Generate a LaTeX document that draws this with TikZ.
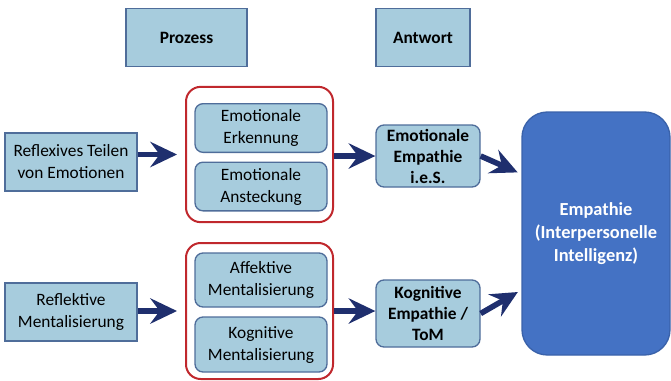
\documentclass[tikz,border=0pt]{standalone}
\usepackage{fontspec}
\setmainfont{Carlito}
\usetikzlibrary{arrows.meta}
\definecolor{boxfill}{HTML}{A7CCDD}
\definecolor{boxline}{HTML}{4F6D9A}
\definecolor{grpline}{HTML}{C0282D}
\definecolor{empfill}{HTML}{4472C4}
\definecolor{empline}{HTML}{3A62AA}
\definecolor{arrowblue}{HTML}{1F2F6E}
\tikzset{
	head/.style={rectangle, draw=boxline, fill=boxfill, line width=1pt, align=center, font=\fontsize{13}{16.5}\selectfont\bfseries},
	arrow/.style={-{Stealth[length=20pt, width=19pt, inset=7pt]}, line width=4.2pt, arrowblue}
}

\begin{document}
\begin{tikzpicture}[
		x=0.75pt, y=-0.75pt,
		box/.style={
			rectangle,
			draw=boxline,
			fill=boxfill,
			line width=1pt,
			align=center,
			inner sep=1pt,
			font=\fontsize{13}{16.5}\selectfont
		},
		roundbox/.style={
			box,
			rounded corners=6pt
		},
		answer/.style={
			box,
			rounded corners=6pt,
			font=\fontsize{13}{15.75}\selectfont\bfseries
		},
		group/.style={
			draw=grpline,
			line width=1.5pt,
			rounded corners=11pt,
			minimum width=110.25pt,
			minimum height=101.5pt
		},
		result/.style={
			draw=empline,
			fill=empfill,
			line width=1pt,
			rounded corners=19pt,
			align=center,
			text=white,
			font=\fontsize{13.8}{17.5}\selectfont\bfseries,
			minimum width=111pt,
			minimum height=182.25pt
		}
		]
		\useasboundingbox (0,0) rectangle (671,380);
		
		% column heads
		\node[head, minimum width=90.75pt, minimum height=43.5pt] (prozess) at (186.5,37.5) {Prozess};
		\node[head, minimum width=70.5pt, minimum height=43.5pt] (antwort) at (423,37.5) {Antwort};
		
		% sources
		\node[box, minimum width=99pt, minimum height=43.5pt] (reflexiv) at (71,162) {Reflexives Teilen\\von Emotionen};
		\node[box, minimum width=99pt, minimum height=43.5pt] (reflektiv) at (71,312) {Reflektive\\Mentalisierung};
		
		% processes
		\node[group] (grpemo) at (259.5,154.5) {};
		\node[roundbox, minimum width=99pt, minimum height=36.5pt] (erkennung) at (261,128) {Emotionale\\Erkennung};
		\node[roundbox, minimum width=99pt, minimum height=36.5pt] (ansteckung) at (261,186.5) {Emotionale\\Ansteckung};
		
		\node[group, minimum height=102pt] (grpment) at (259.5,311) {};
		\node[roundbox, minimum width=99pt, minimum height=40.5pt] (affektiv) at (261,280) {Affektive\\Mentalisierung};
		\node[roundbox, minimum width=99pt, minimum height=41.25pt] (kognitiv) at (261,344.5) {Kognitive\\Mentalisierung};
		
		% answers
		\node[answer, minimum width=78pt, minimum height=46.5pt] (emoemp) at (428,156) {Emotionale\\Empathie\\i.e.S.};
		\node[answer, minimum width=78pt, minimum height=50.25pt] (kogemp) at (428,313.5) {Kognitive\\Empathie /\\ToM};
		
		\node[result] (empathie) at (596,233.5) {Empathie\\(Interpersonelle\\Intelligenz)};
		
		\draw[arrow, shorten >=6pt] (reflexiv.east |- grpemo.west) -- (grpemo.west);
		\draw[arrow, shorten >=6pt] (reflektiv.east |- grpment.west) -- (grpment.west);
		\draw[arrow] (grpemo.east |- emoemp.west) -- (emoemp.west);
		\draw[arrow] (grpment.east) -- (grpment.east -| kogemp.west);
		\draw[arrow, shorten >=3pt] (emoemp.east) -- (empathie.west |- 0,174);
		\draw[arrow, shorten >=3pt] (kogemp.east) -- (empathie.west |- 0,290);
		
	\end{tikzpicture}
\end{document}
